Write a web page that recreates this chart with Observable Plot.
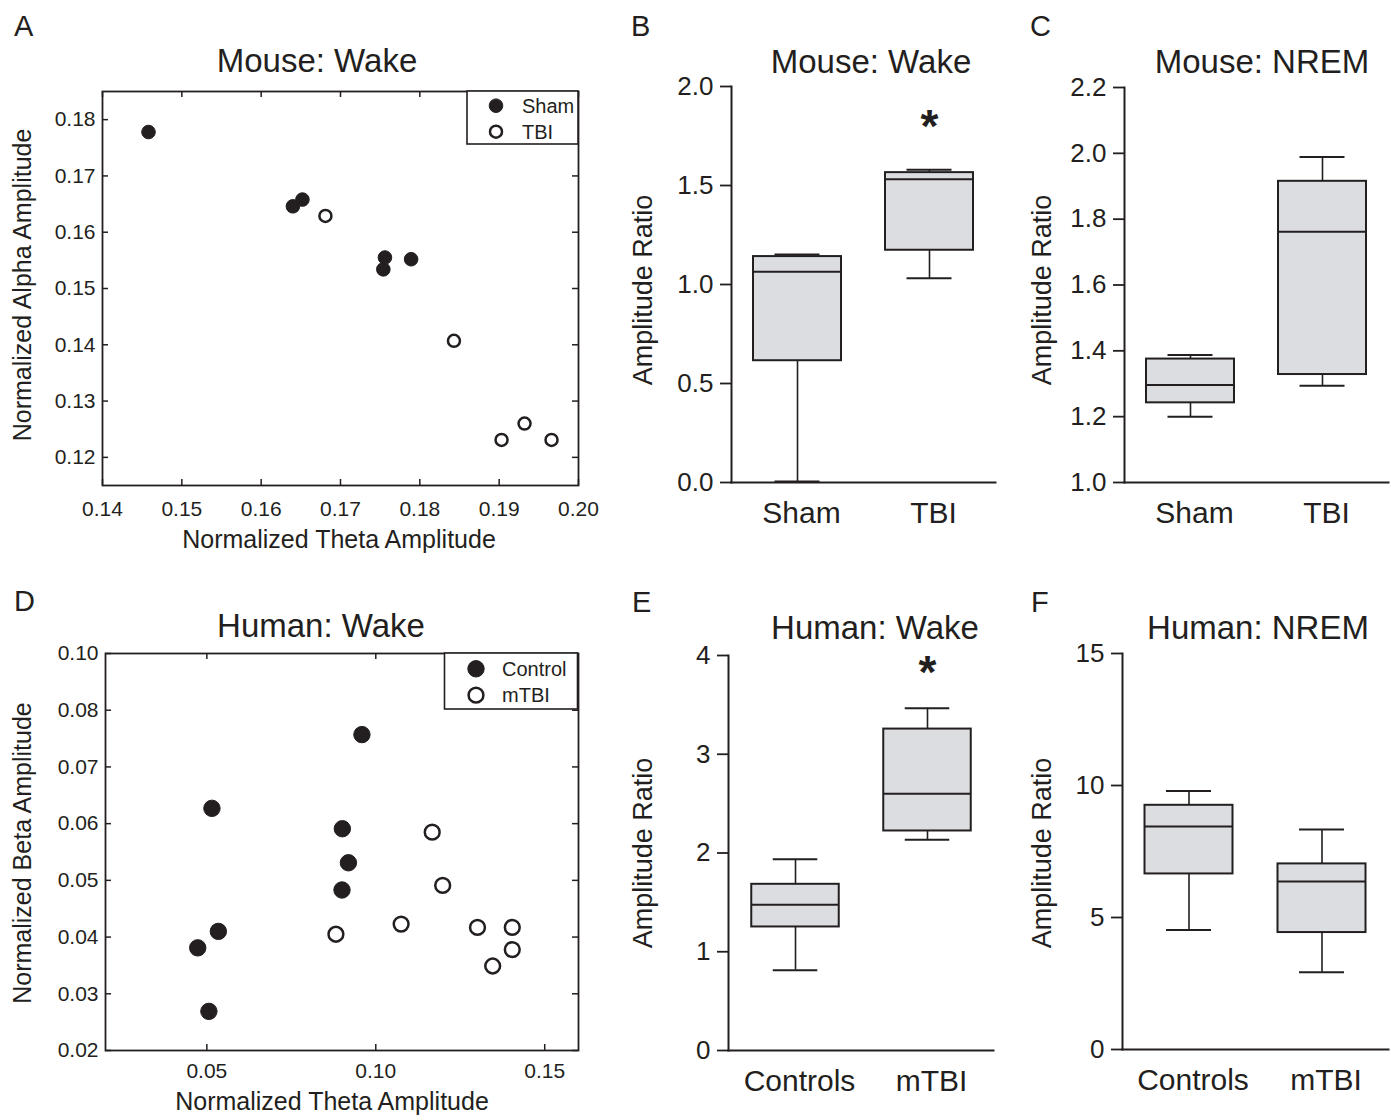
<!DOCTYPE html>
<html>
<head>
<meta charset="utf-8">
<script src="https://cdn.jsdelivr.net/npm/d3@7"></script>
<script src="https://cdn.jsdelivr.net/npm/@observablehq/plot@0.6"></script>
<style>
  html, body { margin: 0; padding: 0; background: #ffffff; }
  #root { position: relative; width: 1395px; height: 1116px; overflow: hidden; background: #ffffff; }
  #root > svg, #root > figure { position: absolute; margin: 0; }
  #overlay { position: absolute; left: 0; top: 0; pointer-events: none; }
</style>
</head>
<body>
<div id="root"></div>
<script>
// ---------------- DATA ----------------
// Panel A: Mouse wake scatter
const mouseShamTheta = [0.1458, 0.1640, 0.1652, 0.1756, 0.1754, 0.1789];
const mouseShamAlpha = [0.1778, 0.1646, 0.1658, 0.1555, 0.1534, 0.1552];
const mouseTbiTheta  = [0.1681, 0.1843, 0.1903, 0.1932, 0.1966];
const mouseTbiAlpha  = [0.1629, 0.1407, 0.1231, 0.1260, 0.1231];
const aXDomain = [0.14, 0.20];
const aYDomain = [0.115, 0.185];
const aXTicks = [0.14, 0.15, 0.16, 0.17, 0.18, 0.19, 0.20];
const aYTicks = [0.12, 0.13, 0.14, 0.15, 0.16, 0.17, 0.18];

// Panel D: Human wake scatter
const humanControlTheta = [0.0515, 0.0959, 0.0901, 0.0919, 0.0900, 0.0534, 0.0473, 0.0506];
const humanControlBeta  = [0.0627, 0.0757, 0.0591, 0.0531, 0.0483, 0.0410, 0.0381, 0.0269];
const humanMtbiTheta    = [0.1167, 0.1198, 0.1075, 0.0882, 0.1301, 0.1404, 0.1404, 0.1346];
const humanMtbiBeta     = [0.0585, 0.0491, 0.0423, 0.0405, 0.0417, 0.0417, 0.0378, 0.0349];
const dXDomain = [0.02, 0.16];
const dYDomain = [0.02, 0.09];
const dXTicks = [0.05, 0.10, 0.15];
const dYTicks = [0.02, 0.03, 0.04, 0.05, 0.06, 0.07, 0.08, 0.09];
const dYTickLabels = ["0.02", "0.03", "0.04", "0.05", "0.06", "0.07", "0.08", "0.10"];

// Box plots
const mouseGroups = ["Sham", "TBI"];
const humanGroups = ["Controls", "mTBI"];

// Panel B: Mouse wake amplitude ratio
const bLow  = [0.005, 1.031];
const bQ1   = [0.615, 1.173];
const bMed  = [1.065, 1.532];
const bQ3   = [1.141, 1.565];
const bHigh = [1.151, 1.580];
const bTicks = [0, 0.5, 1.0, 1.5, 2.0];
const bStar = {group: "TBI", y: 1.83};

// Panel C: Mouse NREM amplitude ratio
const cLow  = [1.200, 1.294];
const cQ1   = [1.242, 1.328];
const cMed  = [1.296, 1.762];
const cQ3   = [1.375, 1.915];
const cHigh = [1.387, 1.989];
const cTicks = [1.0, 1.2, 1.4, 1.6, 1.8, 2.0, 2.2];

// Panel E: Human wake amplitude ratio
const eLow  = [0.813, 2.135];
const eQ1   = [1.251, 2.223];
const eMed  = [1.477, 2.600];
const eQ3   = [1.683, 3.255];
const eHigh = [1.936, 3.467];
const eTicks = [0, 1, 2, 3, 4];
const eStar = {group: "mTBI", y: 3.89};

// Panel F: Human NREM amplitude ratio
const fLow  = [4.53, 2.93];
const fQ1   = [6.65, 4.43];
const fMed  = [8.45, 6.36];
const fQ3   = [9.25, 7.03];
const fHigh = [9.79, 8.33];
const fTicks = [0, 5, 10, 15];

// ---------------- STYLE ----------------
const INK = "#231f20";
const BOX_FILL = "#dcdde0";
const FONT = "'Liberation Sans', Arial, Helvetica, sans-serif";
const root = document.getElementById("root");

function place(svg, left, top) {
  svg.style.position = "absolute";
  svg.style.left = left + "px";
  svg.style.top = top + "px";
  root.appendChild(svg);
}

function scatterPanel(o) {
  const innerW = o.width - o.ml - o.mr;
  const innerH = o.height - o.mt - o.mb;
  const filled = o.fx.map((x, i) => ({x, y: o.fy[i]}));
  const open = o.ox.map((x, i) => ({x, y: o.oy[i]}));
  const tk = 6;
  return Plot.plot({
    width: o.width, height: o.height,
    marginTop: o.mt, marginRight: o.mr, marginBottom: o.mb, marginLeft: o.ml,
    x: {domain: o.xDomain, axis: null},
    y: {domain: o.yDomain, axis: null},
    style: {fontFamily: FONT, fontSize: "21px", color: INK, background: "transparent", overflow: "visible"},
    marks: [
      Plot.tickX(o.xTicks, {x: d => d, insetTop: innerH - tk, stroke: INK, strokeWidth: 1.5}),
      Plot.tickX(o.xTicks, {x: d => d, insetBottom: innerH - tk, stroke: INK, strokeWidth: 1.5}),
      Plot.tickY(o.yTicks, {y: d => d, insetRight: innerW - tk, stroke: INK, strokeWidth: 1.5}),
      Plot.tickY(o.yTicks, {y: d => d, insetLeft: innerW - tk, stroke: INK, strokeWidth: 1.5}),
      Plot.frame({stroke: INK, strokeWidth: 1.8}),
      Plot.axisX({ticks: o.xTicks, tickSize: 0, tickPadding: o.xPad, tickFormat: d3.format(".2f"), fontSize: 21, label: null}),
      Plot.axisY({ticks: o.yTicks, tickSize: 0, tickPadding: 7, tickFormat: o.yFmt, fontSize: 21, label: null}),
      Plot.dot(filled, {x: "x", y: "y", r: o.r, fill: INK, stroke: INK, strokeWidth: 1}),
      Plot.dot(open, {x: "x", y: "y", r: o.r - 0.8, fill: "#ffffff", stroke: INK, strokeWidth: 2.5})
    ]
  });
}

function boxPanel(o) {
  const rows = o.groups.map((g, i) => ({group: g, low: o.low[i], q1: o.q1[i], med: o.med[i], q3: o.q3[i], high: o.high[i]}));
  const band = (o.width - o.ml - o.mr) / o.groups.length;
  const boxInset = (band - 88) / 2;
  const capInset = (band - 45) / 2;
  const marks = [
    Plot.ruleX(rows, {x: "group", y1: "low", y2: "q1", stroke: INK, strokeWidth: 1.6}),
    Plot.ruleX(rows, {x: "group", y1: "q3", y2: "high", stroke: INK, strokeWidth: 1.6}),
    Plot.tickY(rows, {x: "group", y: "low", insetLeft: capInset, insetRight: capInset, stroke: INK, strokeWidth: 2}),
    Plot.tickY(rows, {x: "group", y: "high", insetLeft: capInset, insetRight: capInset, stroke: INK, strokeWidth: 2}),
    Plot.barY(rows, {x: "group", y1: "q1", y2: "q3", fill: BOX_FILL, stroke: INK, strokeWidth: 2, insetLeft: boxInset, insetRight: boxInset}),
    Plot.tickY(rows, {x: "group", y: "med", insetLeft: boxInset, insetRight: boxInset, stroke: INK, strokeWidth: 2}),
    Plot.axisY({ticks: o.ticks, tickSize: 11, tickPadding: 7, tickFormat: o.fmt, fontSize: 26, label: null, stroke: INK, strokeWidth: 1.8}),
    Plot.axisX({tickSize: 0, tickPadding: 19, fontSize: 30, label: null, dx: 4}),
    Plot.frame({anchor: "left", stroke: INK, strokeWidth: 2}),
    Plot.frame({anchor: "bottom", stroke: INK, strokeWidth: 2})
  ];
  if (o.star) marks.push(Plot.text([o.star], {x: "group", y: "y", text: () => "*", fontSize: 46, fontWeight: "bold", fill: INK, dy: 7}));
  return Plot.plot({
    width: o.width, height: o.height,
    marginTop: o.mt, marginRight: o.mr, marginBottom: o.mb, marginLeft: o.ml,
    x: {type: "band", domain: o.groups, padding: 0, axis: null},
    y: {domain: o.domain, axis: null},
    style: {fontFamily: FONT, fontSize: "26px", color: INK, background: "transparent", overflow: "visible"},
    marks
  });
}

// ---------------- PANELS ----------------
place(scatterPanel({
  width: 600, height: 560, mt: 91, mr: 22, mb: 75, ml: 102,
  fx: mouseShamTheta, fy: mouseShamAlpha, ox: mouseTbiTheta, oy: mouseTbiAlpha,
  xDomain: aXDomain, yDomain: aYDomain, xTicks: aXTicks, yTicks: aYTicks,
  yFmt: d3.format(".2f"), xPad: 16, r: 6.8
}), 0, 0);

place(scatterPanel({
  width: 600, height: 556, mt: 93, mr: 22, mb: 66, ml: 105,
  fx: humanControlTheta, fy: humanControlBeta, ox: humanMtbiTheta, oy: humanMtbiBeta,
  xDomain: dXDomain, yDomain: dYDomain, xTicks: dXTicks, yTicks: dYTicks,
  yFmt: d => dYTickLabels[dYTicks.indexOf(d)], xPad: 13, r: 8.2
}), 0, 560);

place(boxPanel({
  width: 400, height: 560, mt: 86, mr: 5, mb: 78, ml: 131,
  groups: mouseGroups, low: bLow, q1: bQ1, med: bMed, q3: bQ3, high: bHigh,
  domain: [0, 2], ticks: bTicks, fmt: d3.format(".1f"), star: bStar
}), 600, 0);

place(boxPanel({
  width: 395, height: 560, mt: 87, mr: 7, mb: 78, ml: 124,
  groups: mouseGroups, low: cLow, q1: cQ1, med: cMed, q3: cQ3, high: cHigh,
  domain: [1.0, 2.2], ticks: cTicks, fmt: d3.format(".1f"), star: null
}), 1000, 0);

place(boxPanel({
  width: 400, height: 556, mt: 95, mr: 7, mb: 66, ml: 128,
  groups: humanGroups, low: eLow, q1: eQ1, med: eMed, q3: eQ3, high: eHigh,
  domain: [0, 4], ticks: eTicks, fmt: d3.format("d"), star: eStar
}), 600, 560);

place(boxPanel({
  width: 395, height: 556, mt: 93, mr: 7, mb: 67, ml: 122,
  groups: humanGroups, low: fLow, q1: fQ1, med: fMed, q3: fQ3, high: fHigh,
  domain: [0, 15], ticks: fTicks, fmt: d3.format("d"), star: null
}), 1000, 560);

// ---------------- TEXT OVERLAY (titles, letters, axis labels, legends) ----------------
const overlay = d3.select(root).append("svg")
  .attr("id", "overlay").attr("width", 1395).attr("height", 1116)
  .style("font-family", FONT).style("fill", INK);

const letters = [["A", 14, 36], ["B", 631, 36], ["C", 1030, 36], ["D", 14, 611], ["E", 632, 612], ["F", 1031, 612]];
letters.forEach(([t, x, y]) => overlay.append("text").attr("x", x).attr("y", y).attr("font-size", 29).attr("fill", INK).text(t));

const titles = [["Mouse: Wake", 317, 72], ["Mouse: Wake", 871, 73], ["Mouse: NREM", 1262, 73],
                ["Human: Wake", 321, 637], ["Human: Wake", 875, 639], ["Human: NREM", 1258, 639]];
titles.forEach(([t, x, y]) => overlay.append("text").attr("x", x).attr("y", y).attr("font-size", 33)
  .attr("text-anchor", "middle").attr("fill", INK).text(t));

const xLabels = [["Normalized Theta Amplitude", 339, 548, 25], ["Normalized Theta Amplitude", 332, 1110, 25]];
xLabels.forEach(([t, x, y, fs]) => overlay.append("text").attr("x", x).attr("y", y).attr("font-size", fs)
  .attr("text-anchor", "middle").attr("fill", INK).text(t));

const yLabels = [["Normalized Alpha Amplitude", 31, 285, 25], ["Normalized Beta Amplitude", 31, 853, 25],
                 ["Amplitude Ratio", 652, 290, 27], ["Amplitude Ratio", 1051, 290, 27],
                 ["Amplitude Ratio", 652, 853, 27], ["Amplitude Ratio", 1051, 853, 27]];
yLabels.forEach(([t, x, y, fs]) => overlay.append("text").attr("transform", `translate(${x},${y}) rotate(-90)`)
  .attr("font-size", fs).attr("text-anchor", "middle").attr("fill", INK).text(t));

function legend(x0, y0, w, h, cx, rowY, r, items) {
  const g = overlay.append("g");
  g.append("rect").attr("x", x0).attr("y", y0).attr("width", w).attr("height", h)
    .attr("fill", "#ffffff").attr("stroke", INK).attr("stroke-width", 1.6);
  items.forEach(([label, filled], i) => {
    g.append("circle").attr("cx", cx).attr("cy", rowY[i]).attr("r", filled ? r : r - 0.8)
      .attr("fill", filled ? INK : "#ffffff").attr("stroke", INK).attr("stroke-width", filled ? 1 : 2.5);
    g.append("text").attr("x", cx + 26).attr("y", rowY[i] + 7).attr("font-size", 20).attr("fill", INK).text(label);
  });
}
legend(467, 91, 111, 53, 496, [105.7, 131.7], 6.8, [["Sham", true], ["TBI", false]]);
legend(444.5, 653, 133, 56, 476, [668.8, 695.2], 8.2, [["Control", true], ["mTBI", false]]);
</script>
</body>
</html>
